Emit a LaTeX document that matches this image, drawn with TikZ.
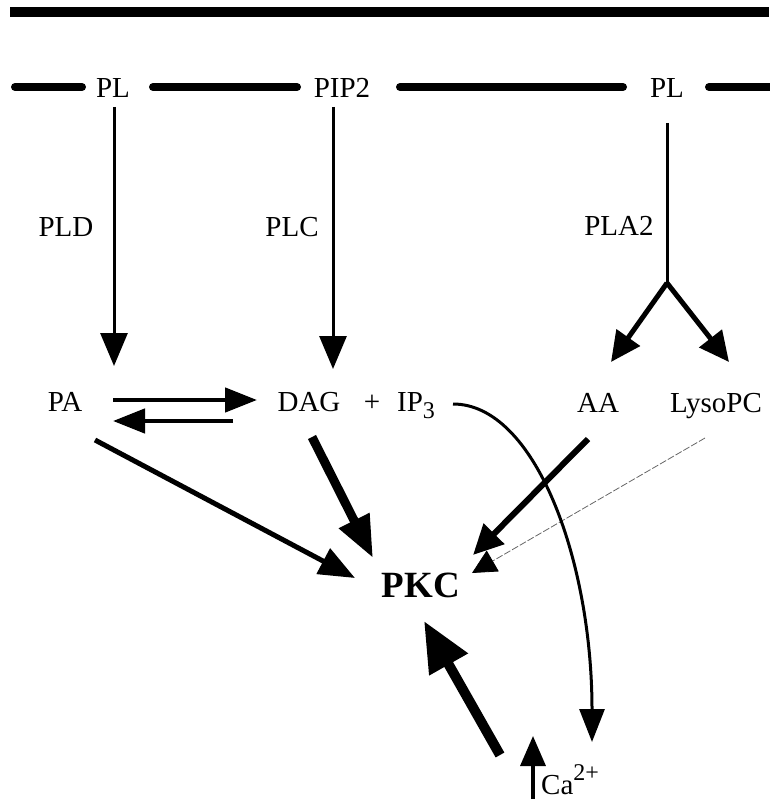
\documentclass[tikz,border=0pt]{standalone}
\usepackage{fontspec}
\setmainfont{Liberation Serif}
\usetikzlibrary{arrows.meta}

\begin{document}
\begin{tikzpicture}[x=1pt,y=-1pt,
  lbl/.style={inner sep=0pt,anchor=base,font=\fontsize{29}{31}\selectfont},
  membrane/.style={line width=8pt,line cap=round},
  thin arrow/.style={line width=3pt,-{Triangle[length=33pt,width=27pt]}},
  mid arrow/.style={line width=4.5pt,-{Triangle[length=32pt,width=24pt]}},
  fork arrow/.style={line width=5pt,-{Triangle[length=30pt,width=28pt]}},
  heavy arrow/.style={line width=9pt,-{Triangle[length=42pt,width=32pt]}},
  huge arrow/.style={line width=10pt,-{Triangle[length=50pt,width=42pt]}},
  faint/.style={line width=0.8pt,black!60,dash pattern=on 7pt off 2pt}]

\useasboundingbox (0,0) rectangle (769,799);

% outer boundary
\draw[line width=10pt] (10,12) -- (769,12);

% membrane with lipid labels
\draw[membrane] (15,87) -- (82,87);
\draw[membrane] (153,87) -- (297,87);
\draw[membrane] (400,87) -- (623,87);
\draw[membrane] (709,87) -- (775,87);

\node[lbl] (pl1) at (113,98) {PL};
\node[lbl] (pip2) at (342,98) {PIP2};
\node[lbl] (pl2) at (667,98) {PL};

% enzymes
\node[lbl] (pld) at (66,237) {PLD};
\node[lbl] (plc) at (292,237) {PLC};
\node[lbl] (pla2) at (619,236) {PLA2};

% products
\node[lbl] (pa) at (65,411) {PA};
\node[lbl] (dag) at (309,411) {DAG};
\node[lbl] (plus) at (372,411) {+};
\node[lbl] (ip3) at (416,411) {IP\raisebox{-0.25em}{\fontsize{24}{24}\selectfont 3}};
\node[lbl] (aa) at (598,412) {AA};
\node[lbl] (lyso) at (716,412) {LysoPC};

\node[inner sep=0pt,anchor=base,font=\bfseries\fontsize{37}{40}\selectfont] (pkc) at (421,597) {PKC};

\node[lbl,anchor=base west] (ca) at (541,794) {Ca\raisebox{0.45em}{\fontsize{24}{24}\selectfont 2+}};

% connector end points
\coordinate (pl1s) at (114,107);
\coordinate (paN) at (114,366);
\coordinate (pip2s) at (333,107);
\coordinate (dagN) at (333,369);
\coordinate (pl2s) at (667,123);
\coordinate (fork) at (667,283);
\coordinate (aaN) at (611,362);
\coordinate (lysoN) at (729,362);

\coordinate (paE) at (113,400);
\coordinate (dagW) at (257,400);
\coordinate (dagW2) at (233,421);
\coordinate (paE2) at (113,421);

\coordinate (paSE) at (95,440);
\coordinate (pkcW) at (355,578);
\coordinate (dagS) at (312,437);
\coordinate (pkcNW) at (373,558);
\coordinate (aaS) at (588,439);
\coordinate (pkcNE) at (473,555);
\coordinate (lysoS) at (705,438);
\coordinate (pkcE) at (472,573);
\coordinate (ip3E) at (453,404);
\coordinate (caN) at (592,742);
\coordinate (caW) at (500,755);
\coordinate (pkcS) at (424,621);
\coordinate (caB) at (533,799);
\coordinate (caT) at (533,736);

% phospholipase reactions
\draw[thin arrow] (pl1s) -- (paN);
\draw[thin arrow] (pip2s) -- (dagN);
\draw[line width=3pt] (pl2s) -- (fork);
\draw[fork arrow] (fork) -- (aaN);
\draw[fork arrow] (fork) -- (lysoN);

% PA / DAG interconversion
\draw[mid arrow] (paE) -- (dagW);
\draw[mid arrow] (dagW2) -- (paE2);

% activators of PKC
\draw[line width=5pt,-{Triangle[length=36pt,width=28pt]}] (paSE) -- (pkcW);
\draw[heavy arrow] (dagS) -- (pkcNW);
\draw[line width=6pt,-{Triangle[length=30pt,width=28pt]}] (aaS) -- (pkcNE);
\draw[faint,-{Triangle[length=24pt,width=24pt,color=black]}] (lysoS) -- (pkcE);

% IP3 releases calcium
\draw[line width=3pt,-{Triangle[length=33pt,width=25pt]}] (ip3E) .. controls (535,404) and (592,560) .. (caN);
\draw[line width=3.5pt,-{Triangle[length=30pt,width=25pt]}] (caB) -- (caT);
\draw[huge arrow] (caW) -- (pkcS);

\end{tikzpicture}
\end{document}
